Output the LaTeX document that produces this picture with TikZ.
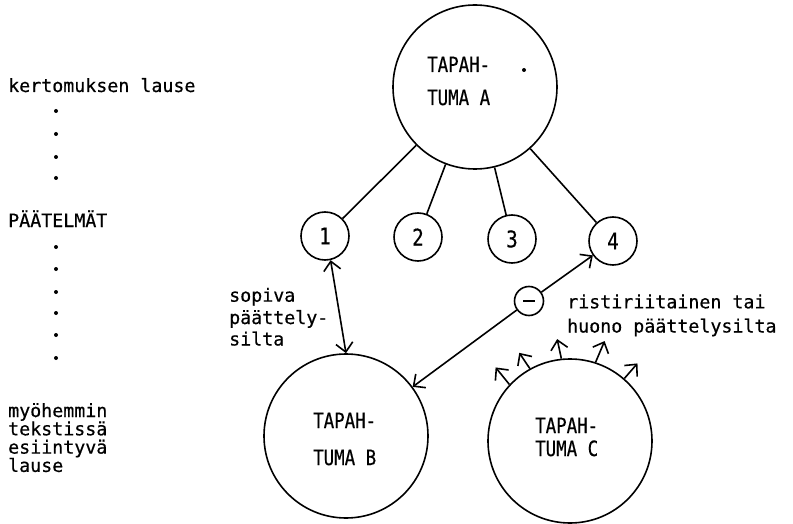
\documentclass[tikz,border=0pt]{standalone}
\usepackage{fontspec}
\usetikzlibrary{arrows.meta}
\newfontfamily\tw[FakeBold=0.5]{DejaVu Sans Mono}
\newfontfamily\twc[FakeStretch=0.83,FakeBold=0.5]{DejaVu Sans Mono}
\begin{document}
\begin{tikzpicture}[x=1pt,y=1pt,
  ev/.style={circle,draw,line width=1.6pt,inner sep=0pt,minimum size=#1},
  txt/.style={anchor=base west,inner sep=0pt,font=\tw\fontsize{18.3}{18.3}\selectfont},
  ctxt/.style={anchor=base west,inner sep=0pt,font=\twc\fontsize{21}{21}\selectfont},
  numf/.style={font=\twc\fontsize{23}{23}\selectfont},
  conn/.style={line width=1.6pt},
  barb/.tip={Straight Barb[length=9pt,width=17pt,line width=1.6pt]},
  tip/.style={-barb},
  ldot/.style={circle,fill,inner sep=0pt,minimum size=4pt}
]
\useasboundingbox (0,0) rectangle (793,-524);

% left column
\node[txt] (kl) at (8,-92) {kertomuksen lause};
\foreach \y [count=\i] in {111,134,157,178} \node[ldot] (da\i) at (56,-\y) {};
\node[txt] (pt) at (8,-227) {PÄÄTELMÄT};
\foreach \y [count=\i] in {247,269,292,313,335,358} \node[ldot] (db\i) at (56,-\y) {};
\node[txt] (m1) at (8,-417) {myöhemmin};
\node[txt] (m2) at (8,-435.3) {tekstissä};
\node[txt] (m3) at (8,-453.6) {esiintyvä};
\node[txt] (m4) at (8,-471.9) {lause};

% events
\node[ev=164pt] (A) at (475,-87) {};
\node[ctxt] (A1) at (427,-72) {TAPAH-};
\node[ctxt] (A2) at (427,-105) {TUMA A};
\fill (524,-70) circle (2);

\node[ev=48pt,numf] (n1) at (325,-236) {1};
\node[ev=48pt,numf] (n2) at (418,-237) {2};
\node[ev=48pt,numf] (n3) at (512,-239) {3};
\node[ev=48pt,numf] (n4) at (613,-241) {4};

\node[ev=164pt] (B) at (346,-436) {};
\node[ctxt] (B1) at (313,-428) {TAPAH-};
\node[ctxt] (B2) at (313,-465) {TUMA B};

\node[ev=164pt] (C) at (570,-441) {};
\node[ctxt] (C1) at (535,-433) {TAPAH-};
\node[ctxt] (C2) at (535,-456) {TUMA C};

\node[ev=29pt] (neg) at (529,-301) {};
\draw[conn] ([xshift=-6pt]neg.center) -- ([xshift=6pt]neg.center);

% connectors
\draw[conn] (A) -- (n1);
\draw[conn] (A) -- (n2);
\draw[conn] (A) -- (n3);
\draw[conn] (A) -- (n4);
\draw[conn,barb-barb] (n1.-77) -- (B.90);
\draw[conn,tip] (neg) -- (B);
\draw[conn,tip] (neg) -- (n4);

% outward arrows on C
\draw[conn,tip] (C.137) -- ++(129:22);
\draw[conn,tip] (C.119) -- ++(124:19);
\draw[conn,tip] (C.96) -- ++(102:20);
\draw[conn,tip] (C.72) -- ++(67:23);
\draw[conn,tip] (C.49) -- ++(49:20);

% labels
\node[txt] (s1) at (229,-301.7) {sopiva};
\node[txt] (s2) at (229,-324) {päättely-};
\node[txt] (s3) at (229,-345.5) {silta};
\node[txt] (r1) at (567,-308.3) {ristiriitainen tai};
\node[txt] (r2) at (567,-332.5) {huono päättelysilta};
\end{tikzpicture}
\end{document}
